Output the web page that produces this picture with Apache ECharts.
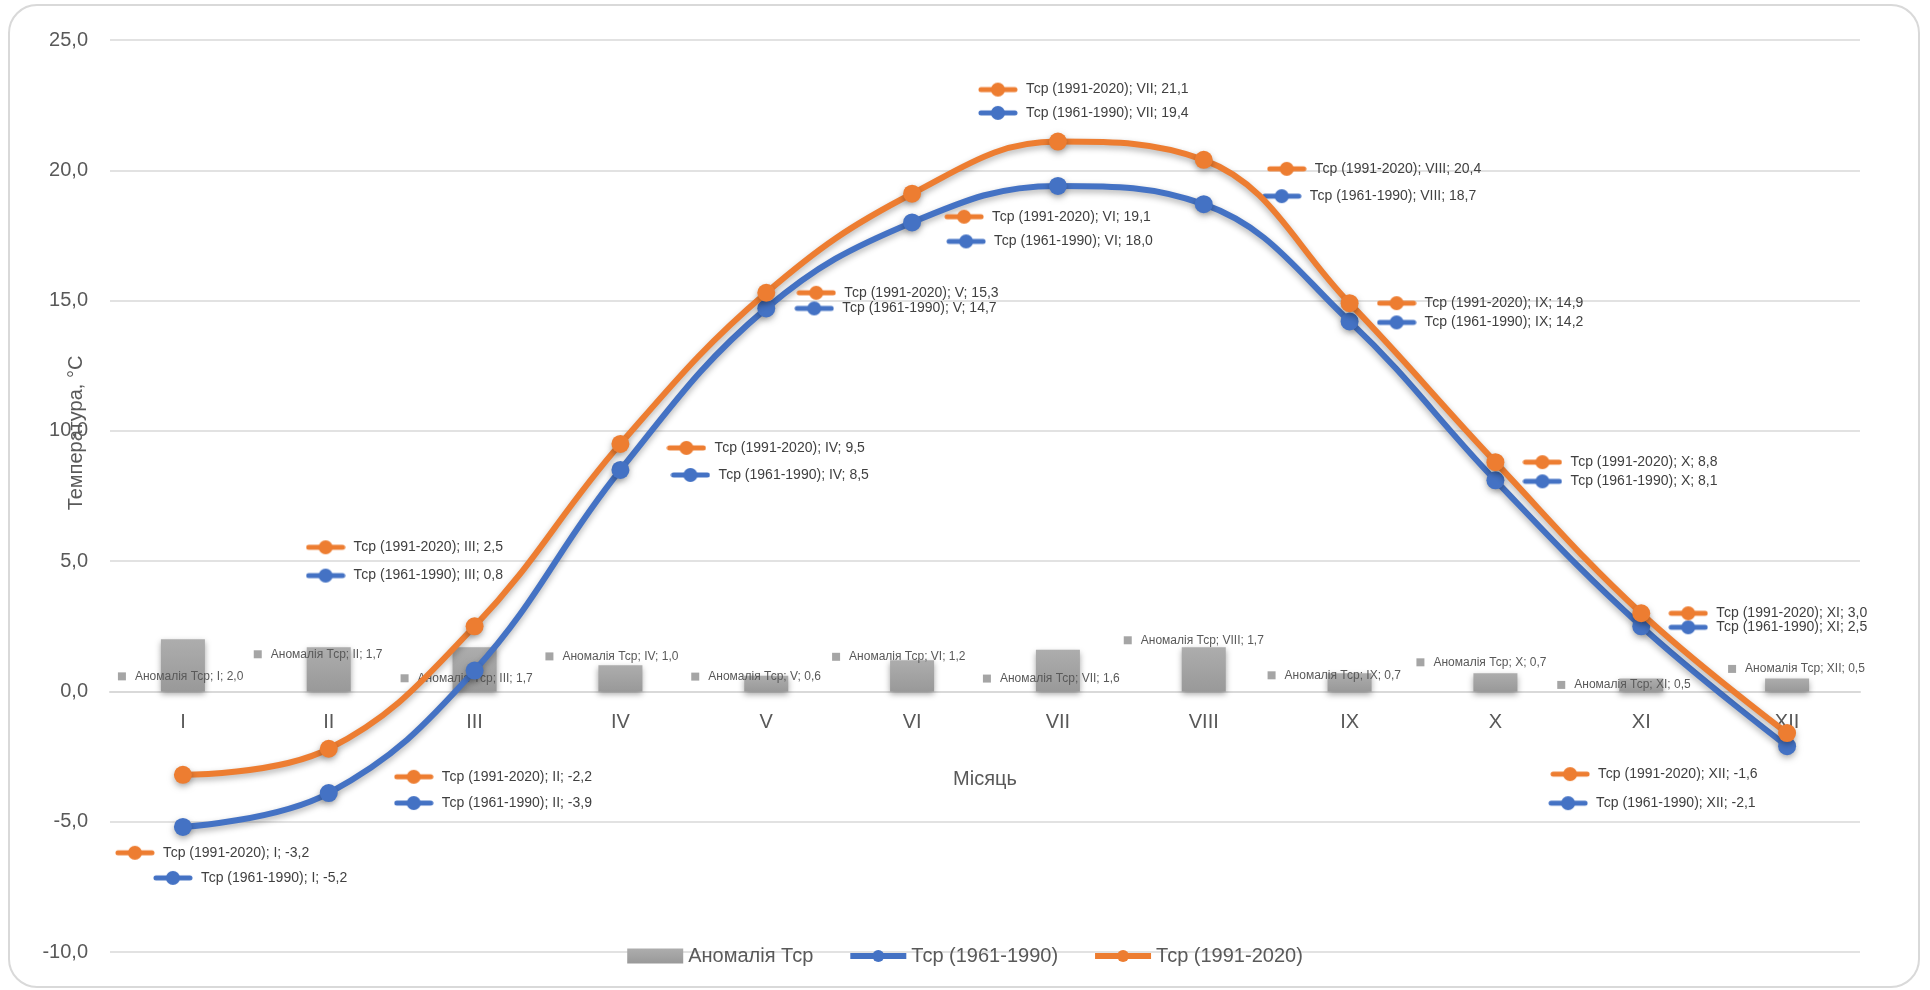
<!DOCTYPE html>
<html>
<head>
<meta charset="utf-8">
<script src="https://cdn.jsdelivr.net/npm/echarts@6/dist/echarts.min.js"></script>
<style>
  html, body { margin: 0; padding: 0; background: #fff; }
  #chart { width: 1930px; height: 990px; }
</style>
</head>
<body>
<div id="chart"></div>
<script>
// Місяці та середні температури
const months = ['I', 'II', 'III', 'IV', 'V', 'VI', 'VII', 'VIII', 'IX', 'X', 'XI', 'XII'];
const anomaly = [2.0, 1.7, 1.7, 1.0, 0.6, 1.2, 1.6, 1.7, 0.7, 0.7, 0.5, 0.5];
const t1961 = [-5.2, -3.9, 0.8, 8.5, 14.7, 18.0, 19.4, 18.7, 14.2, 8.1, 2.5, -2.1];
const t1991 = [-3.2, -2.2, 2.5, 9.5, 15.3, 19.1, 21.1, 20.4, 14.9, 8.8, 3.0, -1.6];
const yMin = -10, yMax = 25, yStep = 5;

const nameAnom = 'Аномалія Тср';
const name1961 = 'Тср (1961-1990)';
const name1991 = 'Тср (1991-2020)';

// Зсуви підписів даних відносно точок (px)
const offs1991 = [[-68, 78], [65, 28], [-169, -79], [46, 4], [30, 0], [32, 23], [-80, -52], [63, 9], [27, 0], [27, 0], [27, 0], [-237, 41]];
const offs1961 = [[-30, 51], [65, 10], [-169, -95], [50, 5], [28, 0], [34, 19], [-80, -73], [58, -8], [27, 1], [27, 1], [27, 1], [-239, 57]];
const offsAnom = [[-65, 11], [-75, -15], [-74, 9], [-75, -22], [-75, -7], [-80, -19], [-75, 8], [-80, -29], [-82, -7], [-79, -20], [-84, 0], [-59, -16]];

const BLUE = '#4472C4', ORANGE = '#ED7D31', GRAY = '#A5A5A5';
const FONT = "'Liberation Sans', Arial, sans-serif";
const GRID = { left: 110, right: 70, top: 40, bottom: 38 };

const fmt = v => v.toFixed(1).replace('.', ',');

// Маленький ключ легенди (лінія з маркером) для підписів
function lineKey(color) {
  const c = document.createElement('canvas');
  c.width = 40; c.height = 16;
  const g = c.getContext('2d');
  g.strokeStyle = color; g.lineWidth = 5; g.lineCap = 'round';
  g.beginPath(); g.moveTo(3, 8); g.lineTo(37, 8); g.stroke();
  g.fillStyle = color;
  g.beginPath(); g.arc(20, 8, 7, 0, Math.PI * 2); g.fill();
  return c;
}

function lineSeries(name, values, offs, color, z) {
  const key = lineKey(color);
  return {
    name, type: 'line', z,
    smooth: 0.4,
    symbol: 'circle', symbolSize: 18,
    lineStyle: { width: 6, color, shadowColor: 'rgba(0,0,0,0.3)', shadowBlur: 6, shadowOffsetY: 3 },
    itemStyle: { color, shadowColor: 'rgba(0,0,0,0.3)', shadowBlur: 6, shadowOffsetY: 3 },
    data: values.map((v, i) => ({
      value: v,
      label: {
        offset: offs[i],
        formatter: '{k|}{t|' + name + '; ' + months[i] + '; ' + fmt(v) + '}'
      }
    })),
    label: {
      show: true, position: 'inside', align: 'left', verticalAlign: 'middle',
      rich: {
        k: { width: 40, height: 16, backgroundColor: { image: key } },
        t: { fontSize: 14, fontFamily: FONT, color: '#404040', padding: [0, 0, 0, 8] }
      }
    },
    emphasis: { disabled: true }
  };
}

const chart = echarts.init(document.getElementById('chart'), null, { renderer: 'canvas' });

chart.setOption({
  animation: false,
  backgroundColor: '#fff',
  textStyle: { fontFamily: FONT },
  grid: Object.assign({ containLabel: false, outerBoundsMode: 'none' }, GRID),
  legend: {
    top: 941, left: 'center',
    itemWidth: 56, itemHeight: 15, itemGap: 34,
    lineStyle: { width: 6 },
    textStyle: { fontSize: 20, color: '#595959', fontFamily: FONT },
    data: [
      { name: nameAnom, icon: 'rect' },
      { name: name1961 },
      { name: name1991 }
    ]
  },
  xAxis: {
    type: 'category',
    data: months,
    axisLine: { onZero: false, lineStyle: { color: '#D9D9D9', width: 2 } },
    axisTick: { show: false },
    axisLabel: { fontSize: 20, color: '#595959', margin: 21, fontFamily: FONT },
    name: 'Місяць', nameLocation: 'middle', nameGap: 78,
    nameTextStyle: { fontSize: 20, color: '#595959', fontFamily: FONT }
  },
  yAxis: {
    type: 'value', min: yMin, max: yMax, interval: yStep,
    axisLine: { show: false }, axisTick: { show: false },
    axisLabel: { fontSize: 20, color: '#595959', margin: 22, formatter: fmt, fontFamily: FONT },
    splitLine: { lineStyle: { color: '#D9D9D9', width: 1.5 } }
  },
  graphic: [
    {
      type: 'rect', silent: true, z: -1,
      shape: { x: 9, y: 5, width: 1910, height: 982, r: 28 },
      style: { fill: 'none', stroke: '#D9D9D9', lineWidth: 2 }
    },
    {
      type: 'text', silent: true,
      x: 76, y: 433, rotation: Math.PI / 2,
      style: {
        text: 'Температура, °С', fontSize: 20, fill: '#595959', fontFamily: FONT,
        align: 'center', verticalAlign: 'middle'
      }
    }
  ],
  series: [
    {
      name: nameAnom, type: 'bar', barWidth: 44, z: 1,
      itemStyle: {
        color: new echarts.graphic.LinearGradient(0, 0, 0, 1, [
          { offset: 0, color: '#ADADAD' }, { offset: 1, color: '#999999' }
        ]),
        shadowColor: 'rgba(0,0,0,0.35)', shadowBlur: 6, shadowOffsetY: 3
      },
      data: anomaly.map((v, i) => ({
        value: v,
        label: { offset: offsAnom[i], formatter: '{k|}{t|' + nameAnom + '; ' + months[i] + '; ' + fmt(v) + '}' }
      })),
      label: {
        show: true, position: 'inside', align: 'left', verticalAlign: 'middle',
        rich: {
          k: { width: 8, height: 8, backgroundColor: GRAY },
          t: { fontSize: 12, fontFamily: FONT, color: '#595959', padding: [0, 0, 0, 9] }
        }
      },
      emphasis: { disabled: true }
    },
    lineSeries(name1961, t1961, offs1961, BLUE, 3),
    lineSeries(name1991, t1991, offs1991, ORANGE, 4)
  ]
});

// Категорійна вісь перетинає шкалу температур у нулі
const zeroY = chart.convertToPixel({ yAxisIndex: 0 }, 0);
const bottomY = chart.getHeight() - GRID.bottom;
chart.setOption({ xAxis: { offset: zeroY - bottomY } });
</script>
</body>
</html>
